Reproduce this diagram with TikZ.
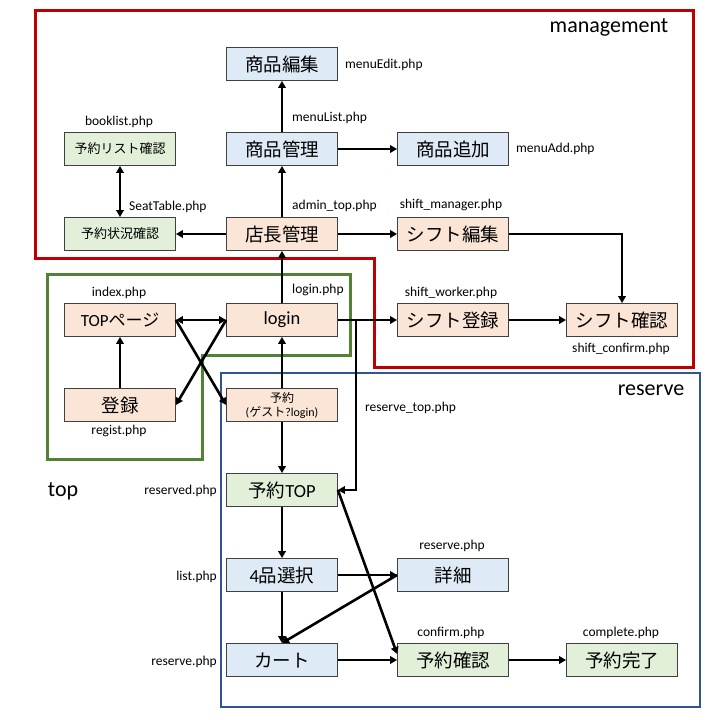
\documentclass[tikz,border=0pt]{standalone}
\usepackage{fontspec}
\setmainfont{Carlito}
\newfontfamily\jp{Noto Sans CJK JP}
\usetikzlibrary{arrows.meta}
\definecolor{ofill}{HTML}{FBE5D6}
\definecolor{bfill}{HTML}{DEEBF7}
\definecolor{gfill}{HTML}{E2F0D9}
\definecolor{redf}{HTML}{C00000}
\definecolor{greenf}{HTML}{548235}
\definecolor{bluef}{HTML}{2F5597}
\begin{document}
\begin{tikzpicture}[x=1pt,y=-1pt,
  box/.style={draw=black!75, line width=0.8pt, minimum width=111pt, minimum height=33pt, inner sep=1pt, font=\fontsize{18.5}{20}\selectfont},
  ora/.style={box, fill=ofill},
  blu/.style={box, fill=bfill},
  grn/.style={box, fill=gfill},
  small/.style={font=\fontsize{13}{15}\selectfont},
  arr/.style={line width=2.6pt, -{Triangle[length=7pt,width=7.5pt]}},
  darr/.style={line width=2.6pt, {Triangle[length=7pt,width=7.5pt]}-{Triangle[length=7pt,width=7.5pt]}},
  lbl/.style={font=\fontsize{13.5}{15}\selectfont, inner sep=0pt},
  ttl/.style={font=\fontsize{22}{24}\selectfont, inner sep=0pt},
  frame/.style={line width=3pt, line join=miter}]
\useasboundingbox (0,0) rectangle (720,720);
% frames
\draw[frame, draw=redf] (35,10) -- (693,10) -- (693,367) -- (374,367) -- (374,258) -- (35,258) -- cycle;
\draw[frame, draw=greenf] (47,274) -- (350,274) -- (350,355) -- (202,355) -- (202,459) -- (47,459) -- cycle;
\draw[line width=2.6pt, draw=bluef] (221,373) rectangle (700,707);
\node[ttl] (tmg) at (609,27) {management};
\node[ttl] (trs) at (651,390) {reserve};
\node[ttl] (ttp) at (63,491) {top};
% nodes
\node[blu] (menuEdit) at (282,64) {\jp 商品編集};
\node[blu] (menuMgr) at (282,149) {\jp 商品管理};
\node[blu] (menuAdd) at (453,149) {\jp 商品追加};
\node[ora] (admin) at (282,234) {\jp 店長管理};
\node[ora] (shiftEdit) at (453,234) {\jp シフト編集};
\node[grn, small] (booklist) at (120,149) {\jp 予約リスト確認};
\node[grn, small] (status) at (120,234) {\jp 予約状況確認};
\node[ora] (login) at (282,320) {login};
\node[ora, font=\fontsize{17}{20}\selectfont] (topp) at (120,320) {TOP{\jp ページ}};
\node[ora] (regist) at (120,405) {\jp 登録};
\node[ora, font=\fontsize{12}{14}\selectfont, align=center] (guest) at (282,405) {{\jp 予約}\\({\jp ゲスト}?login)};
\node[ora] (shiftReg) at (453,320) {\jp シフト登録};
\node[ora] (shiftConf) at (622,320) {\jp シフト確認};
\node[grn] (rtop) at (282,490) {{\jp 予約}TOP};
\node[blu] (sel) at (282,575) {4{\jp 品選択}};
\node[blu] (cart) at (282,660) {\jp カート};
\node[blu] (detail) at (453,575) {\jp 詳細};
\node[grn] (conf) at (453,660) {\jp 予約確認};
\node[grn] (done) at (622,660) {\jp 予約完了};
% labels
\node[lbl, anchor=west] (l1) at (345,65) {menuEdit.php};
\node[lbl, anchor=west] (l2) at (292,118) {menuList.php};
\node[lbl, anchor=west] (l3) at (516,149) {menuAdd.php};
\node[lbl, anchor=west] (l4) at (292,206) {admin\_top.php};
\node[lbl] (l5) at (451,205) {shift\_manager.php};
\node[lbl] (l6) at (119,122) {booklist.php};
\node[lbl, anchor=west] (l7) at (129,207) {SeatTable.php};
\node[lbl] (l8) at (119,293) {index.php};
\node[lbl, anchor=west] (l9) at (292,290) {login.php};
\node[lbl] (l10) at (119,431) {regist.php};
\node[lbl] (l11) at (451,293) {shift\_worker.php};
\node[lbl] (l12) at (621,349) {shift\_confirm.php};
\node[lbl, anchor=west] (l13) at (365,408) {reserve\_top.php};
\node[lbl, anchor=east] (l14) at (217,491) {reserved.php};
\node[lbl, anchor=east] (l15) at (217,577) {list.php};
\node[lbl, anchor=east] (l16) at (217,662) {reserve.php};
\node[lbl] (l17) at (452,546) {reserve.php};
\node[lbl] (l18) at (451,633) {confirm.php};
\node[lbl] (l19) at (621,633) {complete.php};
% edges
\draw[arr] (menuMgr) -- (menuEdit);
\draw[arr] (menuMgr) -- (menuAdd);
\draw[arr] (admin) -- (menuMgr);
\draw[arr] (admin) -- (status);
\draw[darr] (booklist) -- (status);
\draw[arr] (admin) -- (shiftEdit);
\draw[arr] (shiftEdit.east) -| (shiftConf.north);
\draw[arr] (login) -- (admin);
\draw[darr] (topp) -- (login);
\draw[arr] (regist) -- (topp);
\draw[arr] (topp.east) -- (guest.west);
\draw[arr] (login.west) -- (regist.east);
\draw[arr] (guest) -- (login);
\draw[arr] (guest) -- (rtop);
\draw[arr] (login) -- (shiftReg);
\coordinate (jn) at (356,320);
\draw[arr] (jn) |- (rtop.east);
\draw[arr] (shiftReg) -- (shiftConf);
\draw[arr] (rtop) -- (sel);
\draw[arr] (sel) -- (cart);
\draw[arr] (sel) -- (detail);
\draw[arr] (detail.west) -- (cart.north);
\draw[arr] (rtop.east) -- ([yshift=6pt]conf.west);
\draw[arr] (cart) -- (conf);
\draw[arr] (conf) -- (done);
\end{tikzpicture}
\end{document}
